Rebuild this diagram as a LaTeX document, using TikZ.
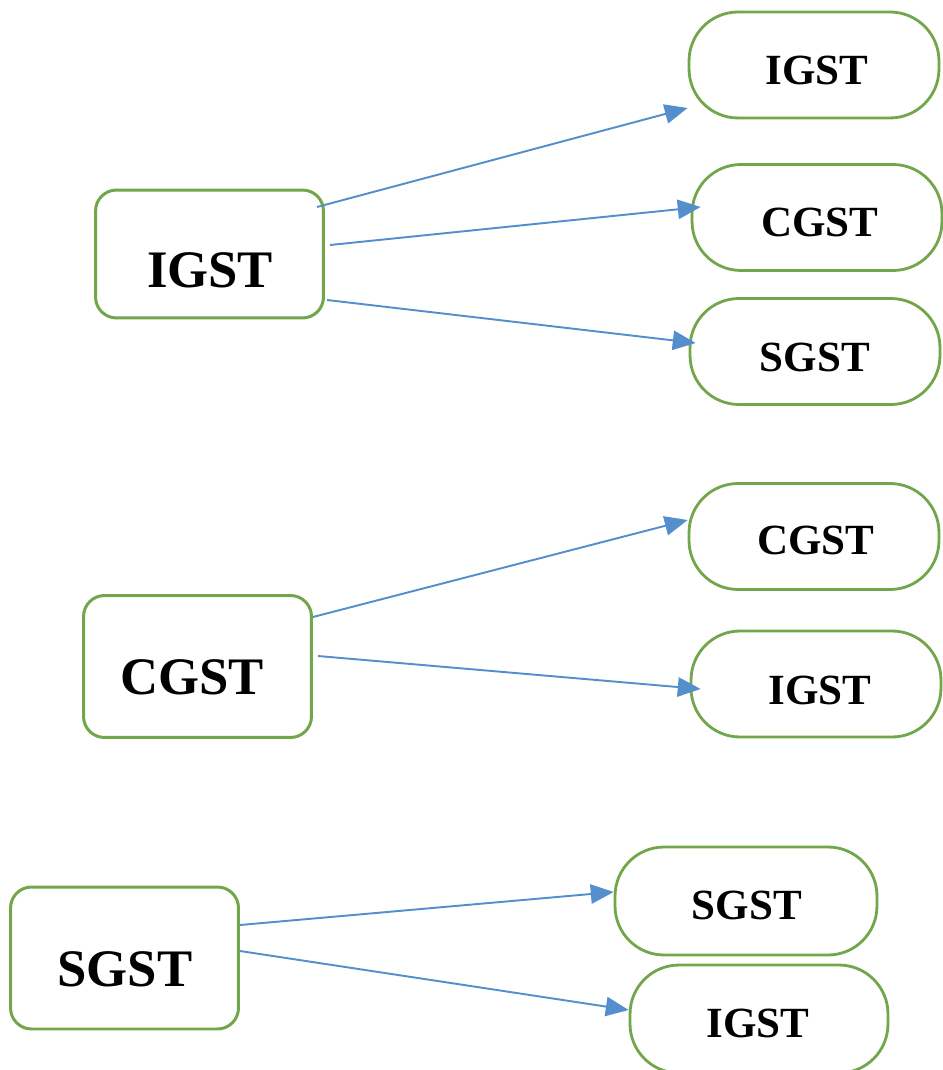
\documentclass[tikz,border=0pt]{standalone}
\usepackage{fontspec}
\setmainfont{Liberation Serif}
\usetikzlibrary{arrows.meta,calc}
\definecolor{boxgreen}{RGB}{114,166,74}
\definecolor{arrowblue}{RGB}{84,142,204}
\tikzset{
  srcbox/.style={draw=boxgreen, line width=1.7pt, rounded corners=0.42cm, fill=white,
                 minimum width=4.56cm, minimum height=2.84cm, inner sep=0pt},
  dstbox/.style={draw=boxgreen, line width=1.6pt, rounded corners=0.98cm, fill=white,
                 minimum width=5.0cm, minimum height=2.12cm, inner sep=0pt},
  srctext/.style={font=\bfseries\fontsize{30}{31}\selectfont, inner sep=0pt},
  dsttext/.style={font=\bfseries\fontsize{24.5}{25}\selectfont, inner sep=0pt},
  flow/.style={draw=arrowblue, line width=1.1pt,
               -{Triangle[length=13pt,width=11pt]}, shorten >=0pt}
}
\begin{document}
\begin{tikzpicture}[x=0.02cm, y=-0.02cm]
  \useasboundingbox (0,0) rectangle (942,1070);

  % --- IGST group ---
  \node[srcbox, minimum height=2.56cm] (li) at (209.5,254) {};
  \node[srctext] (lit) at (210,270) {IGST};
  \node[dstbox] (r1) at (814,65) {};
  \node[dsttext] (r1t) at (817,70) {IGST};
  \node[dstbox] (r2) at (817,217.5) {};
  \node[dsttext] (r2t) at (820,222) {CGST};
  \node[dstbox] (r3) at (815,351.5) {};
  \node[dsttext] (r3t) at (815,357) {SGST};

  \draw[flow] ($(li.east)+(-8,-47)$) -- ($(r1.west)+(0,43)$);
  \draw[flow] ($(li.east)+(5,-9)$) -- ($(r2.west)+(10,-10.5)$);
  \draw[flow] ($(li.east)+(2,46)$) -- ($(r3.west)+(7,-8.5)$);

  % --- CGST group ---
  \node[srcbox] (lc) at (197.5,666.5) {};
  \node[srctext] (lct) at (192,677) {CGST};
  \node[dstbox] (r4) at (814,536.5) {};
  \node[dsttext] (r4t) at (816,540) {CGST};
  \node[dstbox] (r5) at (816,684) {};
  \node[dsttext] (r5t) at (820,690) {IGST};

  \draw[flow] ($(lc.east)+(0,-49.5)$) -- ($(r4.west)+(0,-16.5)$);
  \draw[flow] ($(lc.east)+(5,-10.5)$) -- ($(r5.west)+(11,5)$);

  % --- SGST group ---
  \node[srcbox] (ls) at (124.5,958) {};
  \node[srctext] (lst) at (125,969) {SGST};
  \node[dstbox, minimum width=5.24cm, minimum height=2.16cm] (r6) at (746,901) {};
  \node[dsttext] (r6t) at (747,905) {SGST};
  \node[dstbox, minimum width=5.16cm, minimum height=2.16cm] (r7) at (759,1019) {};
  \node[dsttext] (r7t) at (758,1023) {IGST};

  \draw[flow] ($(ls.east)+(0,-33)$) -- ($(r6.west)+(0,-9)$);
  \draw[flow] ($(ls.east)+(0,-7)$) -- ($(r7.west)+(0,-9)$);
\end{tikzpicture}
\end{document}
